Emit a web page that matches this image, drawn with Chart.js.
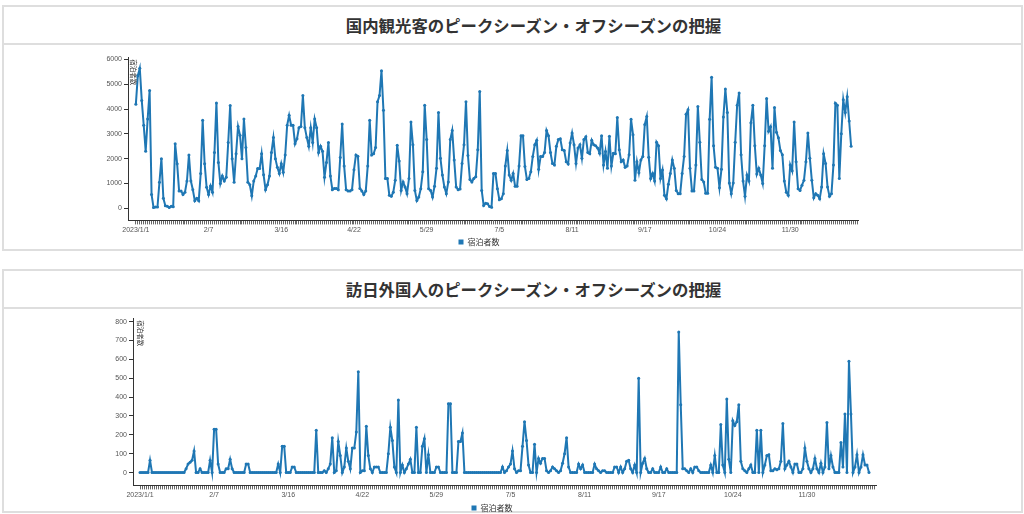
<!DOCTYPE html>
<html lang="ja">
<head>
<meta charset="utf-8">
<title>ピークシーズン・オフシーズンの把握</title>
<script src="https://cdn.jsdelivr.net/npm/chart.js@4.4.1/dist/chart.umd.min.js"></script>
<style>
  html, body { margin: 0; padding: 0; background: #fff; }
  body { width: 1024px; height: 514px; position: relative; overflow: hidden; font-family: "Noto Sans CJK JP", sans-serif; }
  .panel { position: absolute; left: 2px; width: 1017px; border: 2px solid #dedede; }
  .panel h2 { margin: 0; height: 36px; line-height: 36px; border-bottom: 2px solid #dedede; text-align: center;
              font-size: 16.4px; font-weight: bold; color: #333; padding-left: 42px; }
  .box { position: absolute; }
</style>
</head>
<body>
<div class="panel" style="top:5px;height:242px;"><h2 id="title1"></h2></div>
<div class="panel" style="top:269px;height:240px;"><h2 id="title2"></h2></div>
<div class="box" style="left:100px;top:46px;width:764px;height:210px;"><canvas id="domesticChart"></canvas></div>
<div class="box" style="left:108px;top:309px;width:776px;height:213px;"><canvas id="inboundChart"></canvas></div>
<script>
// titles / labels
const titles = ['国内観光客のピークシーズン・オフシーズンの把握', '訪日外国人のピークシーズン・オフシーズンの把握'];
const seriesName = '宿泊者数';
const axisTitle = '宿泊者数';

// x axis: one point per day from 2023/1/1, labelled every 37 days
const tickDays = [0, 37, 74, 111, 148, 185, 222, 259, 296, 333];
const tickLabels = ['2023/1/1', '2/7', '3/16', '4/22', '5/29', '7/5', '8/11', '9/17', '10/24', '11/30'];

const yTicksDomestic = [0, 1000, 2000, 3000, 4000, 5000, 6000];
const yTicksInbound = [0, 100, 200, 300, 400, 500, 600, 700, 800];

// domestic guests, daily
const domestic = [
  4200,5350,5650,4350,3350,2300,3600,4750,550,30,
  50,50,1050,2000,400,100,80,30,80,60,
  2600,1800,700,700,550,650,1100,2150,1100,750,
  300,400,300,1400,3550,1800,850,550,900,650,
  2250,4250,1850,1000,1300,1100,1250,2650,4150,2000,
  1050,2200,3300,2950,2000,3600,2450,1050,950,500,
  1100,1300,1600,1600,2200,1350,750,950,1300,2250,
  2850,2000,1650,1400,1800,1450,2150,3350,3750,3350,
  3350,2600,2800,3250,3300,4550,3250,2850,2500,3250,
  2650,3600,3250,2250,2500,2300,1250,1850,2650,1300,
  750,800,800,750,2050,3400,1700,750,700,700,
  750,1550,2150,2100,800,700,550,700,1700,3550,
  2150,2200,2450,4300,4550,5550,3950,
  1200,1200,520,480,650,1130,2540,1910,720,1060,
  860,590,1200,3480,2560,720,310,450,790,1470,
  4160,2770,790,720,450,890,1610,3860,2020,1340,
  860,590,1060,2770,3140,1950,860,750,780,1810,
  2560,4300,2130,1160,1060,1200,1270,2360,4710,720,
  110,200,180,70,40,1400,1400,790,340,380,
  590,1700,2330,1340,1130,1400,890,890,1700,2930,
  2930,1680,1160,1200,1470,2090,2560,2740,1570,2090,
  2090,2250,3140,2930,2250,1810,1750,2500,2770,2800,
  2360,2330,1880,1790,2630,3040,2560,1810,2430,2560,
  2020,2770,2880,2250,2200,2740,2560,2520,2430,2220,
  2930,1750,2290,1610,2900,1700,2220,2200,3660,2360,
  1880,1950,1650,1700,2160,3590,2970,1130,1880,1430,
  1950,2090,3380,3700,2060,1200,1400,1100,2660,2520,
  1200,1540,520,380,970,1400,1950,1610,720,590,
  590,1400,
  2090,3790,3970,1610,700,700,1750,4110,2660,1160,
  1060,610,610,3590,5290,2520,1650,1610,830,1570,
  3680,4810,3860,1020,590,1020,2660,4160,4650,2160,
  1100,480,1340,1100,3450,4160,2520,1380,1610,1340,
  1000,2520,4430,3110,3290,1610,4060,3070,2840,2330,
  2160,1100,650,520,1750,1510,3480,1880,790,720,
  930,1130,1880,3040,2020,1130,420,590,520,380,
  860,2200,1810,860,480,590,1750,4240,4160,1200,
  3010,4380,3860,4500,3520,2500
];

// foreign visitors, daily
const inbound = [
  0,0,0,0,0,65,0,0,0,0,
  0,0,0,0,0,0,0,0,0,0,
  0,0,0,20,45,55,65,115,0,0,
  20,0,0,0,0,65,0,230,230,45,
  0,0,0,20,20,70,20,0,0,0,
  0,0,0,45,45,0,0,0,0,0,
  0,0,0,0,0,0,0,0,0,45,
  0,140,140,0,0,0,30,30,0,0,
  0,0,0,0,0,0,0,0,225,0,
  0,0,10,0,20,45,185,0,10,165,
  90,0,30,130,60,20,130,130,215,535,
  0,10,10,245,90,20,0,30,30,30,
  0,0,0,0,100,240,170,30,0,385,
  0,40,0,20,45,70,0,0,240,0,
  0,140,180,0,95,0,0,0,30,30,
  0,0,0,0,365,365,0,0,0,165,
  165,210,0,0,0,0,0,0,0,0,
  0,0,0,0,0,0,0,0,0,0,
  0,30,0,10,30,45,115,20,0,10,
  10,140,270,170,40,0,0,150,0,75,
  50,75,75,10,0,10,30,20,10,0,
  10,50,100,185,30,0,0,0,0,45,
  20,40,0,0,0,0,0,45,20,10,
  0,10,10,0,0,0,0,30,30,0,
  30,0,20,60,65,20,0,40,0,500,
  0,50,75,20,0,0,20,0,0,0,
  30,0,0,20,0,0,0,0,0,745,
  360,20,20,10,0,20,0,30,30,10,
  0,0,0,0,0,40,0,90,0,0,
  255,40,0,390,70,0,275,250,270,360,
  60,20,10,0,20,40,0,0,225,0,
  225,0,40,90,95,10,10,20,15,20,
  60,260,20,40,60,30,0,45,45,0,
  0,20,130,60,20,0,20,75,20,0,
  50,0,30,265,20,90,30,0,0,0,
  160,30,310,0,590,310,0,30,95,0,
  30,95,40,40,0
];

document.getElementById('title1').textContent = titles[0];
document.getElementById('title2').textContent = titles[1];

const blue = '#1f77b4';
const axisColor = '#333';
const labelColor = '#555';
const lastTick = 367;

// rotated axis caption drawn just inside the y axis
const axisNote = {
  id: 'axisNote',
  afterDraw(chart, args, opts) {
    const {ctx, chartArea} = chart;
    ctx.save();
    ctx.translate(chartArea.left + opts.dx, chartArea.top + opts.dy);
    ctx.rotate(Math.PI / 2);
    ctx.font = '6.5px "Noto Sans CJK JP"';
    ctx.fillStyle = '#333';
    ctx.textBaseline = 'middle';
    ctx.textAlign = 'left';
    ctx.fillText(axisTitle, 0, 0);
    ctx.restore();
  }
};

function makeChart(id, values, cfg) {
  const dayTicks = [];
  for (let d = 0; d <= lastTick; d++) dayTicks.push({value: d});
  return new Chart(document.getElementById(id), {
    type: 'line',
    data: {
      datasets: [{
        label: seriesName,
        data: values.map((v, i) => ({x: i, y: v})),
        borderColor: blue,
        backgroundColor: blue,
        borderWidth: 2,
        pointRadius: 1.5,
        pointBorderWidth: 0,
        pointBackgroundColor: blue,
        tension: 0,
        fill: false
      }]
    },
    options: {
      responsive: true,
      maintainAspectRatio: false,
      animation: false,
      layout: {padding: {left: 0, right: cfg.padRight, top: cfg.padTop, bottom: 0}},
      plugins: {
        tooltip: {enabled: false},
        axisNote: {dx: cfg.noteDx, dy: 2},
        legend: {
          position: 'bottom',
          labels: {
            boxWidth: 5,
            boxHeight: 5,
            padding: cfg.legendPad,
            color: '#333',
            font: {family: '"Noto Sans CJK JP"', size: 8},
            generateLabels: (chart) => Chart.defaults.plugins.legend.labels.generateLabels(chart)
              .map(l => Object.assign(l, {lineWidth: 0}))
          }
        }
      },
      scales: {
        x: {
          type: 'linear',
          min: cfg.xMin,
          max: 367.5,
          afterBuildTicks: (s) => { s.ticks = dayTicks.slice(); },
          afterFit: (s) => { s.height = 14; },
          border: {display: true, color: axisColor, width: 1},
          grid: {drawOnChartArea: false, drawTicks: true, tickLength: 4, color: '#666', lineWidth: 1},
          ticks: {
            autoSkip: false,
            maxRotation: 0,
            padding: 1,
            color: labelColor,
            font: {family: '"Liberation Sans", sans-serif', size: 7},
            callback: (v) => {
              const k = tickDays.indexOf(v);
              return k >= 0 ? tickLabels[k] : '';
            }
          }
        },
        y: {
          min: cfg.yMin,
          max: cfg.yMax,
          afterBuildTicks: (s) => { s.ticks = cfg.yTicks.map(v => ({value: v})); },
          afterFit: (s) => { s.width = cfg.yWidth; },
          border: {display: true, color: axisColor, width: 1},
          grid: {drawOnChartArea: false, drawTicks: true, tickLength: 4, color: axisColor},
          ticks: {
            padding: 2,
            color: labelColor,
            font: {family: '"Liberation Sans", sans-serif', size: 7},
            callback: (v) => String(v)
          }
        }
      }
    },
    plugins: [axisNote]
  });
}

makeChart('domesticChart', domestic, {
  xMin: -4, yMin: -490, yMax: 6090, yTicks: yTicksDomestic,
  yWidth: 28, padRight: 6, padTop: 11.3, legendPad: 3.6, noteDx: 5.5
});
makeChart('inboundChart', inbound, {
  xMin: -3.5, yMin: -68, yMax: 818, yTicks: yTicksInbound,
  yWidth: 25, padRight: 8, padTop: 9.3, legendPad: 4.6, noteDx: 7
});
</script>
</body>
</html>
